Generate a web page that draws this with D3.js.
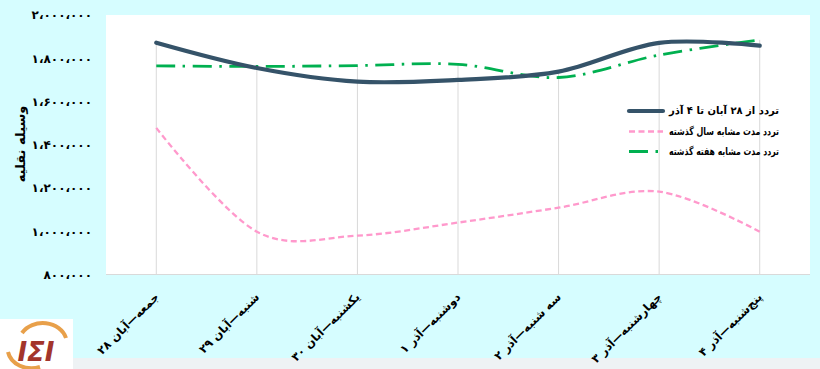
<!DOCTYPE html>
<html><head><meta charset="utf-8">
<script src="https://cdn.jsdelivr.net/npm/d3@7"></script>
<style>
html,body{margin:0;padding:0;background:#d6fdff;}
svg{display:block;}
text{font-family:"DejaVu Sans",sans-serif;font-weight:bold;fill:#000;}
</style></head>
<body>
<svg id="chart" width="820" height="369"></svg>
<script>
const categories = ["جمعه—آبان ۲۸","شنبه—آبان ۲۹","یکشنبه—آبان ۳۰","دوشنبه—آذر ۱","سه شنبه—آذر ۲","چهارشنبه—آذر ۳","پنج‌شنبه—آذر ۴"];
const seriesNames = ["تردد از ۲۸ آبان تا ۴ آذر","تردد مدت مشابه سال گذشته","تردد مدت مشابه هفته گذشته"];
const currentWeek = [1872000,1755000,1692000,1700000,1738000,1871000,1858000];
const lastYear = [1478000,998000,980000,1040000,1109000,1183000,998000];
const lastWeek = [1765000,1762000,1766000,1772000,1711000,1815000,1885000];
const yTicks = [800000,1000000,1200000,1400000,1600000,1800000,2000000];
const yTitle = "وسیله نقلیه";

const toFa = s => String(s).replace(/\d/g, d => "۰۱۲۳۴۵۶۷۸۹"[d]).replace(/,/g, "،");
const fmt = v => toFa(d3.format(",")(v));

const svg = d3.select("#chart");
const W = 820, H = 369;
svg.append("rect").attr("width", W).attr("height", H).attr("fill", "#d6fdff");
svg.append("rect").attr("x", 73).attr("y", 358).attr("width", W-73).attr("height", H-358).attr("fill", "#eef2f4");

const plot = {l:106, r:810, t:15, b:274.5};
svg.append("rect").attr("x", plot.l).attr("y", plot.t).attr("width", plot.r-plot.l).attr("height", plot.b-plot.t).attr("fill", "#fff");

const x = d3.scaleBand().domain(categories).range([plot.l, plot.r]);
const cx = c => x(c) + x.bandwidth()/2;
const y = d3.scaleLinear().domain([800000, 2000000]).range([plot.b, plot.t]);

const series = [
  {name: seriesNames[0], values: currentWeek, color: "#355369", width: 4.2, dash: null, cap:"round"},
  {name: seriesNames[1], values: lastYear, color: "#ff99cc", width: 2.3, dash: "6,3.5", cap:"butt"},
  {name: seriesNames[2], values: lastWeek, color: "#00b050", width: 2.8, dash: "19,7.5,2.5,7.5", cap:"butt"}
];

// drop lines
categories.forEach((c, i) => {
  const top = d3.max(series, s => s.values[i]);
  svg.append("line").attr("x1", cx(c)).attr("x2", cx(c)).attr("y1", y(top)).attr("y2", plot.b)
    .attr("stroke", "#d9d9d9").attr("stroke-width", 1);
});
svg.append("line").attr("x1", plot.l).attr("x2", plot.r).attr("y1", plot.b).attr("y2", plot.b)
  .attr("stroke", "#d9d9d9").attr("stroke-width", 1);

// y axis labels
const yAxis = d3.axisLeft(y).tickValues(yTicks).tickFormat(fmt).tickSize(0).tickPadding(0);
const ya = svg.append("g").attr("transform", `translate(92,0)`).call(yAxis);
ya.select(".domain").remove();
ya.selectAll("text").attr("font-family", "DejaVu Sans").attr("font-weight", "bold").attr("font-size", 12).attr("fill", "#000");

svg.append("text").attr("transform", "translate(25,144) rotate(-90)").attr("text-anchor", "middle")
  .attr("font-size", 13).text(yTitle);

// x labels
const xAxis = d3.axisBottom(x).tickSize(0).tickPadding(0);
const xa = svg.append("g").attr("transform", `translate(0,${plot.b})`).call(xAxis);
xa.select(".domain").remove();
xa.selectAll(".tick text")
  .attr("font-family", "DejaVu Sans").attr("font-weight", "bold").attr("font-size", 11.5).attr("fill", "#000")
  .attr("text-anchor", "end").attr("dy", null).attr("y", null)
  .attr("transform", "translate(-3,17) rotate(-45)")
  .attr("dominant-baseline", "hanging");

// lines
const line = d3.line().x((d, i) => cx(categories[i])).y(d => y(d)).curve(d3.curveCardinal.tension(0));
[series[1], series[2], series[0]].forEach(s => {
  svg.append("path").datum(s.values).attr("d", line).attr("fill", "none")
    .attr("stroke", s.color).attr("stroke-width", s.width).attr("stroke-dasharray", s.dash)
    .attr("stroke-linecap", s.cap).attr("stroke-linejoin", "round");
});

// legend
const ly = [111, 131.5, 151.5];
series.forEach((s, i) => {
  svg.append("line").attr("x1", 629).attr("x2", 663).attr("y1", ly[i]).attr("y2", ly[i])
    .attr("stroke", s.color).attr("stroke-width", s.width).attr("stroke-dasharray", s.dash)
    .attr("stroke-linecap", s.cap);
  svg.append("text").attr("x", 779).attr("y", ly[i]).attr("dominant-baseline", "middle")
    .attr("text-anchor", "end").attr("font-size", 10.5)
    .attr("textLength", 110).attr("lengthAdjust", "spacingAndGlyphs").text(s.name);
});

// logo
const lg = svg.append("g");
lg.append("rect").attr("x", 0).attr("y", 319).attr("width", 73).attr("height", 50).attr("fill", "#fff");
lg.append("path").attr("d", "M22,333 A24,20 0 0 1 66,338").attr("fill", "none").attr("stroke", "#e8a04a").attr("stroke-width", 4);
lg.append("path").attr("d", "M8,352 A24,20 0 0 0 40,367").attr("fill", "none").attr("stroke", "#e8a04a").attr("stroke-width", 4);
lg.append("text").attr("x", 36).attr("y", 361).attr("text-anchor", "middle").attr("font-size", 26)
  .attr("font-style", "italic").style("fill", "#a3352b").text("IΣI");
</script>
</body></html>
